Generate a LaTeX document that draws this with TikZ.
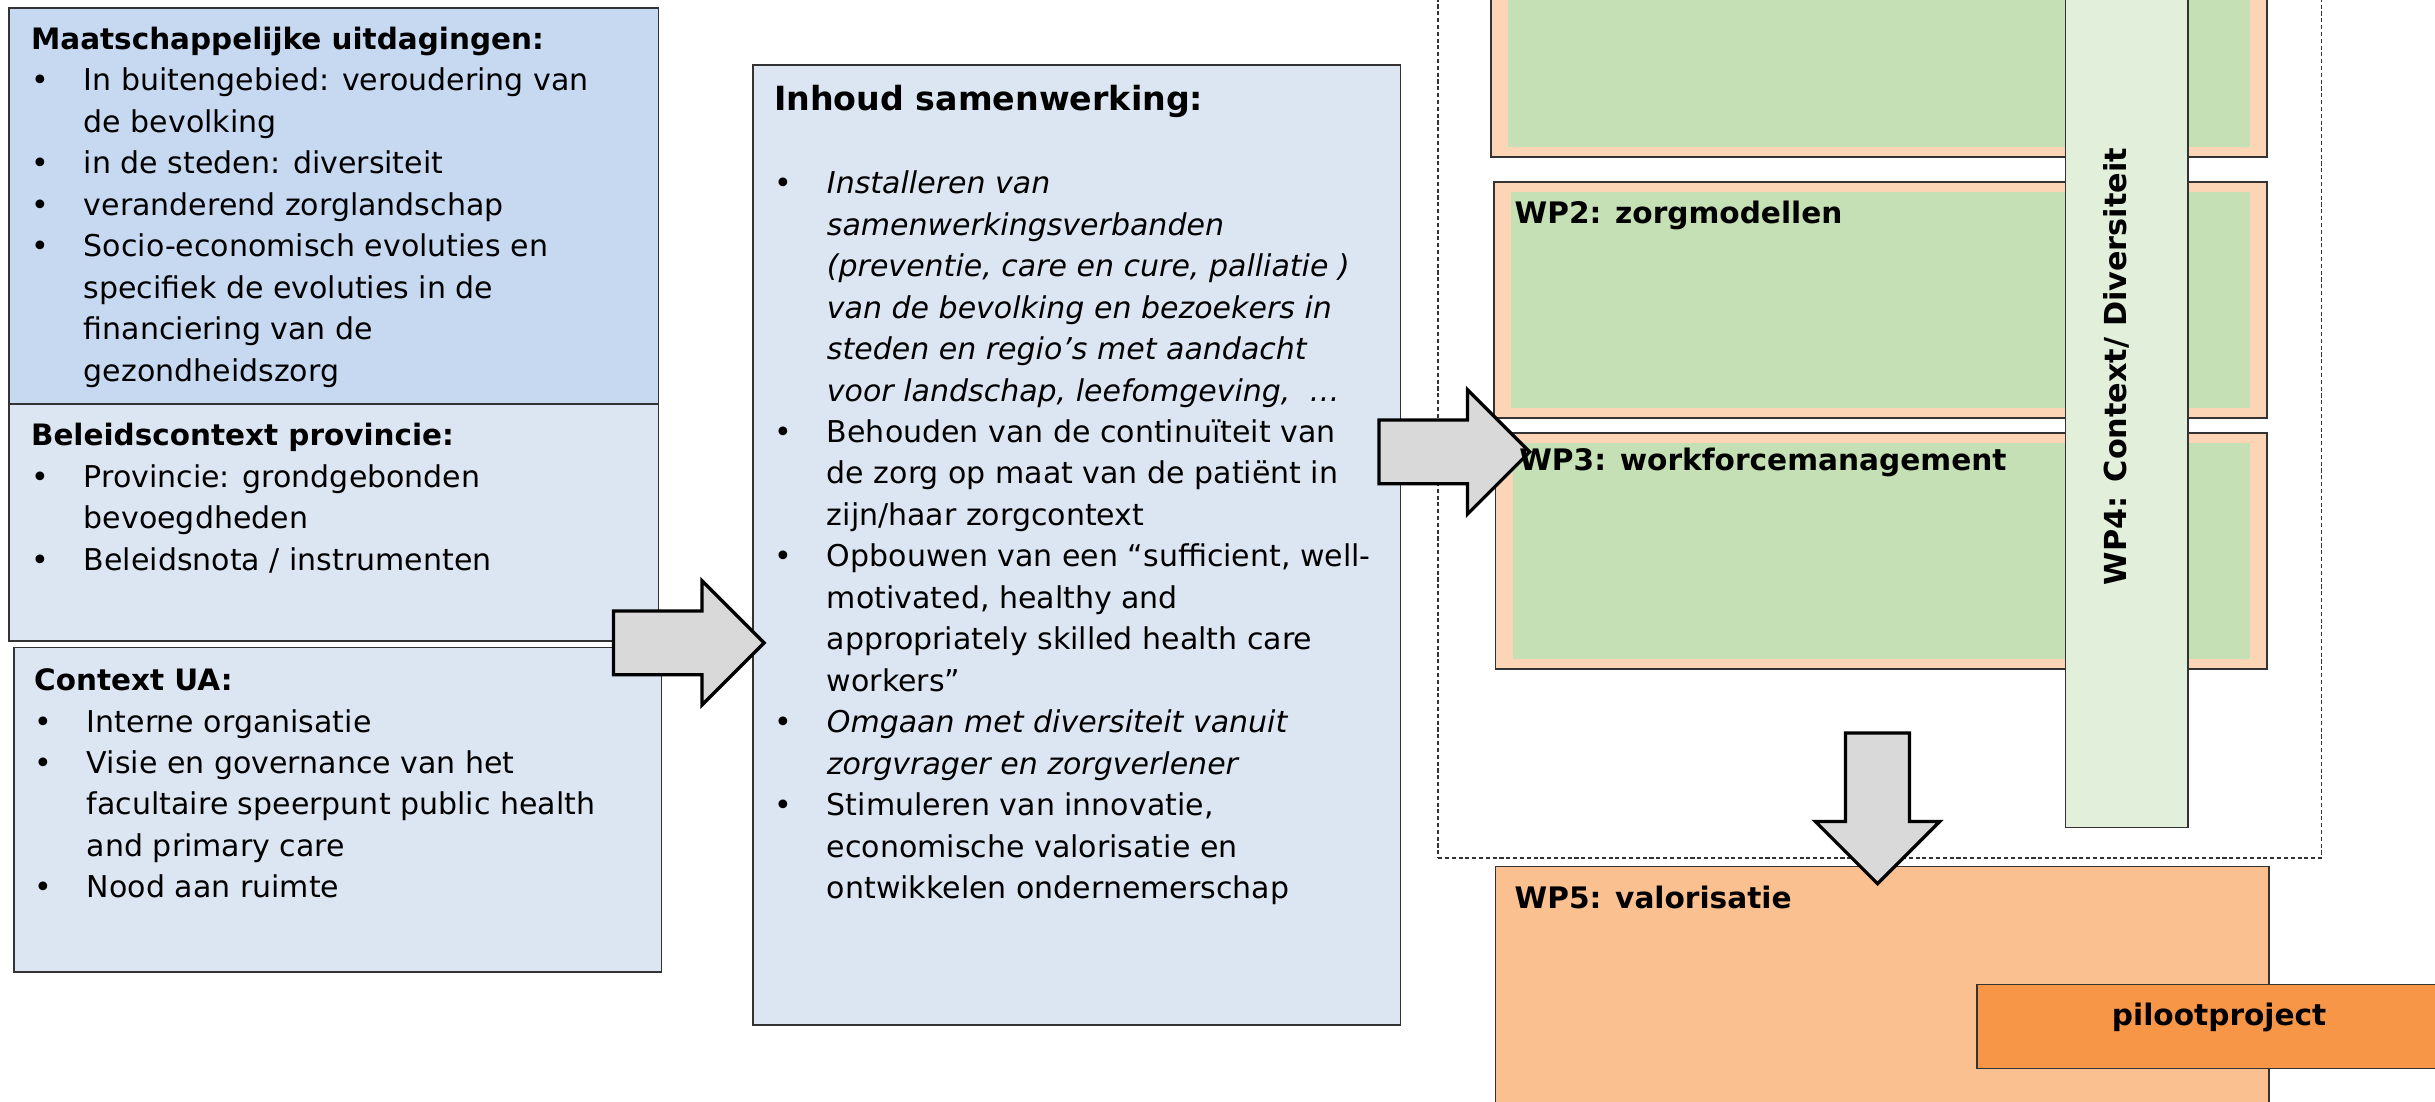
\documentclass[tikz,border=0pt]{standalone}
\usepackage{fontspec}
\setmainfont{DejaVu Sans}
\usetikzlibrary{shapes.arrows,positioning}

\definecolor{blauw}{HTML}{C6D9F1}
\definecolor{lichtblauw}{HTML}{DCE6F2}
\definecolor{perzik}{HTML}{FBD5B5}
\definecolor{groen}{HTML}{C5E0B4}
\definecolor{lichtgroen}{HTML}{E2EFDA}
\definecolor{oranje}{HTML}{FAC090}
\definecolor{donkeroranje}{HTML}{F79646}
\definecolor{pijlgrijs}{HTML}{D9D9D9}

\newcommand{\bpt}{\makebox[0.68cm][l]{\textbullet}}
\newcommand{\bcnt}{\hspace*{0.68cm}}

\begin{document}
\begin{tikzpicture}[x=0.02cm,y=-0.02cm,
    box/.style={rectangle,draw=black!80,line width=0.6pt,inner sep=0pt,outer sep=0pt,below right},
    txt/.style={inner sep=0pt,outer sep=0pt,anchor=north west,align=left,font=\fontsize{11}{15.2}\selectfont},
    wpbox/.style={box,fill=perzik},
    wplabel/.style={inner sep=0pt,anchor=west,font=\fontsize{10.85}{12}\selectfont\bfseries},
    bigarrow/.style={single arrow,draw=black,line width=1.2pt,fill=pijlgrijs,inner sep=0.39cm,single arrow head extend=0.39cm,minimum height=1.94cm,anchor=tail}]

    \useasboundingbox (0,0) rectangle (1568,709);

    % context boxes
    \node[box,fill=blauw,minimum width=8.36cm,minimum height=5.1cm] (maat) at (6,5) {};
    \node[box,fill=lichtblauw,minimum width=8.36cm,minimum height=3.06cm] (beleid) at (6,260) {};
    \node[box,fill=lichtblauw,minimum width=8.34cm,minimum height=4.18cm] (ua) at (9,417) {};

    \node[txt] (maattxt) at (20,17.3) {\textbf{\fontsize{10.8}{15.2}\selectfont Maatschappelijke uitdagingen:}\\
      \bpt In buitengebied: veroudering van\\
      \bcnt de bevolking\\
      \bpt in de steden: diversiteit\\
      \bpt veranderend zorglandschap\\
      \bpt Socio-economisch evoluties en\\
      \bcnt specifiek de evoluties in de\\
      \bcnt financiering van de\\
      \bcnt gezondheidszorg};
    \node[txt] (beleidtxt) at (20,272.6) {\textbf{\fontsize{10.8}{15.2}\selectfont Beleidscontext provincie:}\\
      \bpt Provincie: grondgebonden\\
      \bcnt bevoegdheden\\
      \bpt Beleidsnota / instrumenten};
    \node[txt] (uatxt) at (22,430.6) {\textbf{\fontsize{10.8}{15.2}\selectfont Context UA:}\\
      \bpt Interne organisatie\\
      \bpt Visie en governance van het\\
      \bcnt facultaire speerpunt public health\\
      \bcnt and primary care\\
      \bpt Nood aan ruimte};

    % content box
    \node[box,fill=lichtblauw,minimum width=8.34cm,minimum height=12.36cm] (inhoud) at (485,42) {};
    \node[txt] (inhoudtxt) at (498.5,55) {\textbf{\fontsize{12.2}{15.2}\selectfont Inhoud samenwerking:}\\[15.2pt]
      \bpt \textit{Installeren van}\\
      \bcnt \textit{samenwerkingsverbanden}\\
      \bcnt \textit{(preventie, care en cure, palliatie )}\\
      \bcnt \textit{van de bevolking en bezoekers in}\\
      \bcnt \textit{steden en regio’s met aandacht}\\
      \bcnt \textit{voor landschap, leefomgeving,~ …}\\
      \bpt Behouden van de continuïteit van\\
      \bcnt de zorg op maat van de patiënt in\\
      \bcnt zijn/haar zorgcontext\\
      \bpt Opbouwen van een “sufficient, well-\\
      \bcnt motivated, healthy and\\
      \bcnt appropriately skilled health care\\
      \bcnt workers”\\
      \bpt \textit{Omgaan met diversiteit vanuit}\\
      \bcnt \textit{zorgvrager en zorgverlener}\\
      \bpt Stimuleren van innovatie,\\
      \bcnt economische valorisatie en\\
      \bcnt ontwikkelen ondernemerschap};

    \node[bigarrow] (pijl1) at (394,414) {};

    % work packages
    \node[box,draw=black!80,fill=none,dash pattern=on 1.5pt off 1pt,line width=0.5pt,minimum width=11.38cm,minimum height=11.25cm] (kader) at (926,-10) {};

    \node[wpbox,minimum width=10cm,minimum height=2.22cm] (wp1) at (960,-10) {};
    \node[wpbox,minimum width=9.96cm,minimum height=3.04cm] (wp2) at (962,117) {};
    \node[wpbox,minimum width=9.94cm,minimum height=3.04cm] (wp3) at (963,279) {};
    \foreach \wp in {wp1,wp2,wp3}
      \fill[groen] ([shift={(11,6.5)}]\wp.north west) rectangle ([shift={(-11,-6.5)}]\wp.south east);
    \node[wplabel] (wp2txt) at (975,138.5) {WP2: zorgmodellen};

    \node[box,fill=lichtgroen,minimum width=1.58cm,minimum height=10.86cm] (wp4) at (1330,-10) {};
    \node[rotate=90,inner sep=0pt,font=\fontsize{11.1}{12}\selectfont\bfseries] (wp4txt) at (1363,236) {WP4: Context/ Diversiteit};

    \node[bigarrow] (pijl2) at (887,291) {};
    \node[wplabel] (wp3txt) at (978,298) {WP3: workforcemanagement};

    % valorisation
    \node[box,fill=oranje,minimum width=9.96cm,minimum height=3.4cm] (wp5) at (963,558) {};
    \node[wplabel] (wp5txt) at (975,578) {WP5: valorisatie};
    \node[bigarrow,shape border rotate=270] (pijl3) at (1209,471) {};

    \node[box,fill=donkeroranje,minimum width=6.4cm,minimum height=1.08cm] (piloot) at (1273,634) {};
    \node[inner sep=0pt,font=\fontsize{10.85}{12}\selectfont\bfseries] (piloottxt) at (1429,655) {pilootproject};

\end{tikzpicture}
\end{document}
